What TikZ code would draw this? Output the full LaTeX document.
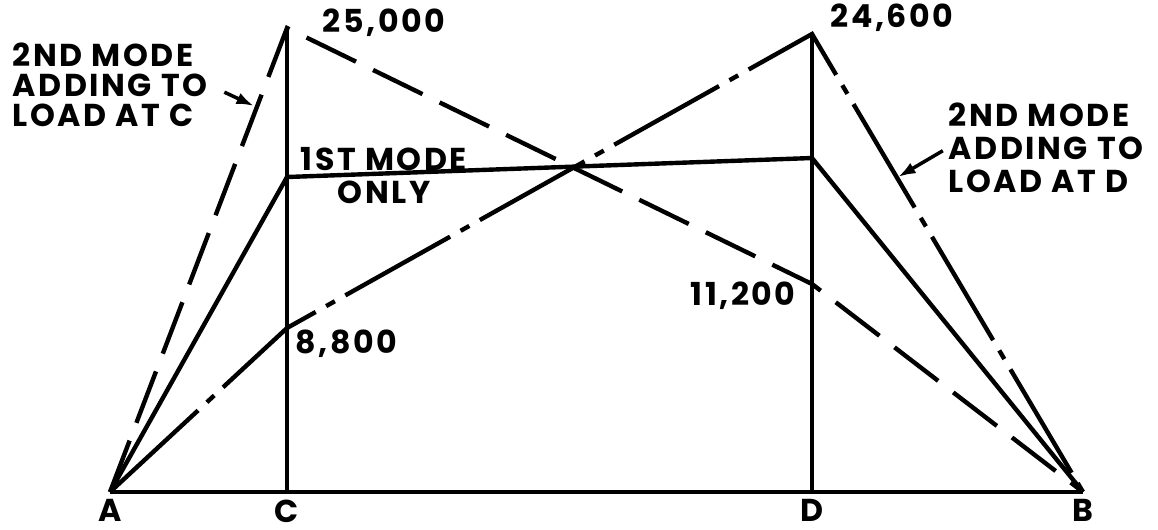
\documentclass[tikz,border=0pt]{standalone}
\usepackage{fontspec}
\usepackage{tikz}
\usetikzlibrary{arrows.meta, positioning}
\newfontfamily\letterfont{Poppins}[LetterSpace=8]

\begin{document}
\begin{tikzpicture}[x=0.01cm, y=-0.01cm, >={Latex[length=5pt, width=3.4pt]},
    lbl/.style={inner sep=0pt, font=\letterfont\bfseries\fontsize{9}{8.5}\selectfont},
    mode1/.style={line width=1.25pt},
    mode2/.style={line width=1.25pt, dash pattern=on 0.55cm off 0.19cm},
    mode2d/.style={line width=1.25pt, dash pattern=on 1.2cm off 0.12cm on 0.1cm off 0.12cm}]
    \useasboundingbox (0,0) rectangle (1158,529);
    % supports and load points
    \coordinate (A) at (110,492);
    \coordinate (C) at (287,492);
    \coordinate (D) at (812,492);
    \coordinate (B) at (1083,492);
    \coordinate (Ctop) at (287,28);
    \coordinate (Dtop) at (812,34);
    \coordinate (C1) at (287,177);
    \coordinate (D1) at (812,158);
    \coordinate (C2) at (287,328);
    \coordinate (D2) at (812,284);
    \draw[mode1] (A) -- (B);
    \draw[mode1] (C) -- (Ctop);
    \draw[mode1] (D) -- (Dtop);
    \draw[mode1] (A) -- (C1) -- (D1) -- (B);
    \draw[mode2] (A) -- (Ctop) -- (D2) -- (B);
    \draw[mode2d] (A) -- (C2) -- (Dtop) -- (B);
    % values
    \node[lbl, anchor=base west] (v25) at (322,32) {25,000};
    \node[lbl, anchor=base west] (v24) at (830,27) {24,600};
    \node[lbl, anchor=base west] (v8) at (295,353) {8,800};
    \node[lbl, anchor=base west] (v11) at (690,305) {11,200};
    \node[lbl, anchor=base west] (m1a) at (300,170) {1ST MODE};
    \node[lbl, anchor=base west] (m1b) at (337,203) {ONLY};
    % notes
    \node[lbl, anchor=north west, align=left] (noteC) at (12,42) {2ND MODE\\ADDING TO\\LOAD AT C};
    \node[lbl, anchor=north west, align=left, font=\letterfont\bfseries\fontsize{9}{9.4}\selectfont] (noteD) at (948,102) {2ND MODE\\ADDING TO\\LOAD AT D};
    \coordinate (hC) at (254,106);
    \coordinate (hD) at (898,177);
    \draw[->, line width=1pt, shorten <=0.18cm] (noteC.east) -- (hC);
    \draw[->, line width=1pt, shorten <=0.06cm] (noteD.west) -- (hD);
    % point letters
    \node[lbl, below=0.07cm of A] (lA) {A};
    \node[lbl, below=0.07cm of C] (lC) {C};
    \node[lbl, below=0.07cm of D] (lD) {D};
    \node[lbl, below=0.07cm of B] (lB) {B};
\end{tikzpicture}
\end{document}
